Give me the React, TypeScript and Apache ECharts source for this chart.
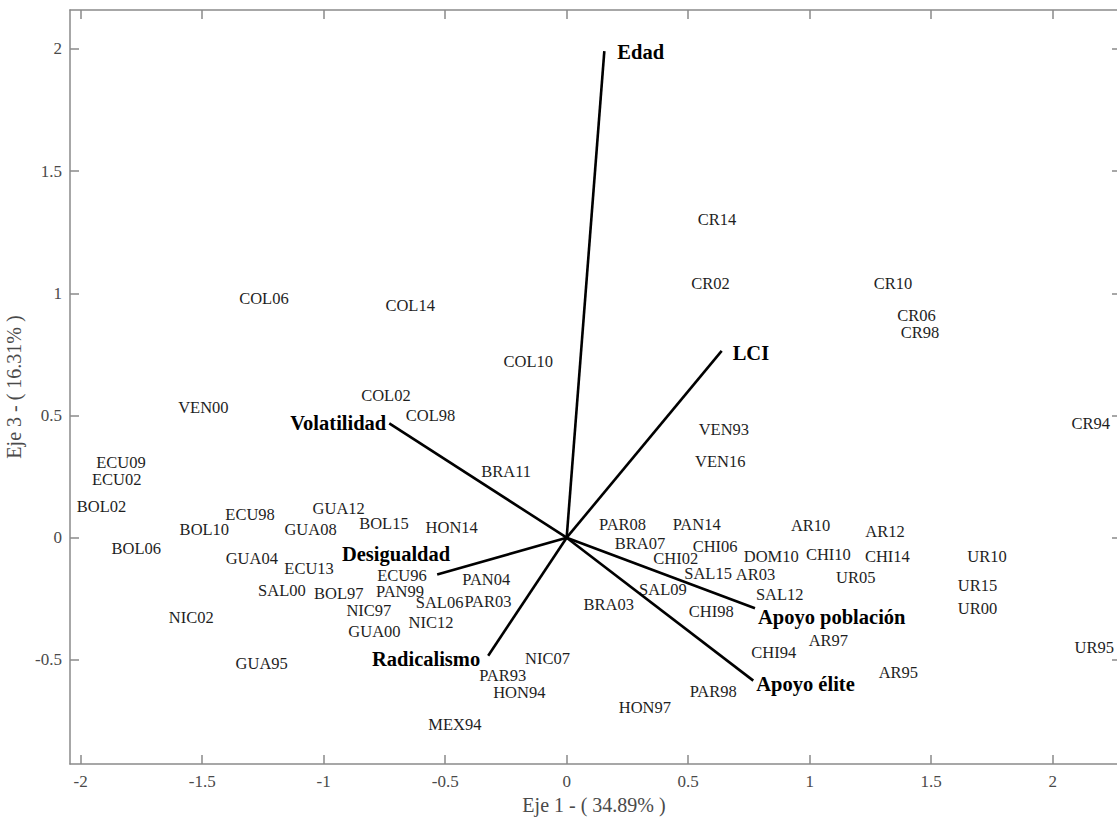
import React, { useEffect, useRef } from "react";
import * as echarts from "echarts";

// Observations (country + year) on the first and third principal axes
const obsNames = [
  "COL06", "COL14", "COL10", "COL02", "COL98", "VEN00", "ECU09", "ECU02", "BOL02", "ECU98",
  "GUA12", "BOL10", "GUA08", "BOL15", "HON14", "BRA11", "BOL06", "GUA04", "ECU13", "ECU96",
  "SAL00", "BOL97", "PAN99", "NIC97", "SAL06", "PAR03", "PAN04", "GUA00", "NIC12", "NIC02",
  "GUA95", "NIC07", "PAR93", "HON94", "MEX94", "HON97", "BRA03", "SAL09", "CHI98", "PAR98",
  "CHI94", "PAR08", "BRA07", "CHI02", "CHI06", "PAN14", "SAL15", "DOM10", "AR03", "SAL12",
  "AR10", "CHI10", "AR12", "CHI14", "UR05", "UR10", "UR15", "UR00", "AR97", "AR95",
  "UR95", "CR14", "CR02", "CR10", "CR06", "CR98", "CR94", "VEN93", "VEN16",
];
const obsEje1 = [
  -1.246, -0.644, -0.158, -0.744, -0.56, -1.495, -1.834, -1.852, -1.914, -1.303,
  -0.938, -1.491, -1.054, -0.752, -0.473, -0.249, -1.771, -1.296, -1.06, -0.678,
  -1.172, -0.938, -0.686, -0.814, -0.523, -0.324, -0.331, -0.791, -0.558, -1.545,
  -1.255, -0.079, -0.263, -0.195, -0.46, 0.322, 0.173, 0.396, 0.595, 0.603,
  0.852, 0.23, 0.302, 0.449, 0.611, 0.535, 0.582, 0.842, 0.777, 0.877,
  1.004, 1.077, 1.31, 1.32, 1.19, 1.73, 1.691, 1.691, 1.077, 1.365,
  2.171, 0.619, 0.592, 1.343, 1.44, 1.454, 2.157, 0.647, 0.632,
];
const obsEje3 = [
  0.98, 0.952, 0.72, 0.58, 0.498, 0.532, 0.307, 0.236, 0.127, 0.096,
  0.119, 0.034, 0.034, 0.056, 0.043, 0.27, -0.043, -0.084, -0.125, -0.153,
  -0.217, -0.228, -0.221, -0.299, -0.266, -0.262, -0.173, -0.382, -0.346, -0.326,
  -0.514, -0.493, -0.562, -0.633, -0.764, -0.696, -0.275, -0.21, -0.303, -0.63,
  -0.471, 0.052, -0.023, -0.084, -0.037, 0.052, -0.146, -0.075, -0.15, -0.232,
  0.048, -0.067, 0.025, -0.075, -0.162, -0.075, -0.194, -0.289, -0.419, -0.552,
  -0.448, 1.3, 1.038, 1.041, 0.911, 0.84, 0.468, 0.444, 0.311,
];

// Variable loadings (biplot vectors)
const varNames = ["Edad", "LCI", "Volatilidad", "Desigualdad", "Radicalismo", "Apoyo población", "Apoyo élite"];
const varEje1 = [0.155, 0.638, -0.73, -0.533, -0.323, 0.775, 0.768];
const varEje3 = [1.991, 0.764, 0.468, -0.151, -0.483, -0.289, -0.585];

// Axis ticks
const xTicks = [-2, -1.5, -1, -0.5, 0, 0.5, 1, 1.5, 2];
const yTicks = [-0.5, 0, 0.5, 1, 1.5, 2];

const X_MIN = -2.044;
const X_MAX = 2.269;
const Y_MIN = -0.926;
const Y_MAX = 2.159;

const SERIF = "'Liberation Serif', 'Times New Roman', Times, serif";
const FRAME = "#8a8a8a";
const TICK_TEXT = "#4a4a4a";

// Where each vector's name sits relative to its tip
const varLabelPlacement: Record<string, { align: string; dx: number; dy: number }> = {
  "Edad": { align: "left", dx: 13, dy: 1 },
  "LCI": { align: "left", dx: 11, dy: 2 },
  "Volatilidad": { align: "right", dx: -3, dy: 0 },
  "Desigualdad": { align: "right", dx: 13, dy: -21 },
  "Radicalismo": { align: "right", dx: -8, dy: 3 },
  "Apoyo población": { align: "left", dx: 3, dy: 9 },
  "Apoyo élite": { align: "left", dx: 3, dy: 3 },
};

function frameAxis(extra: any) {
  return {
    type: "value",
    splitLine: { show: false },
    axisLine: { show: true, onZero: false, lineStyle: { color: FRAME, width: 1.5 } },
    ...extra,
  };
}

export default function App() {
  const ref = useRef<HTMLDivElement>(null);

  useEffect(() => {
    if (!ref.current) return;
    const chart = echarts.init(ref.current, undefined, { renderer: "svg" });

    const obsData = obsNames.map((_, i) => [obsEje1[i], obsEje3[i]]);
    const varData = varNames.map((_, i) => [varEje1[i], varEje3[i]]);

    chart.setOption({
      animation: false,
      backgroundColor: "#ffffff",
      grid: {
        left: 70,
        top: 10,
        right: -1,
        bottom: 53,
        containLabel: false,
        outerBoundsMode: "none",
      },
      xAxis: [
        frameAxis({
          position: "bottom",
          min: X_MIN,
          max: X_MAX,
          axisTick: { show: true, inside: true, length: 9, customValues: xTicks, lineStyle: { color: FRAME, width: 1.5 } },
          axisLabel: {
            show: true,
            customValues: xTicks,
            color: TICK_TEXT,
            fontSize: 17,
            fontFamily: SERIF,
            margin: 9,
            formatter: (v: number) => String(v),
          },
          name: "Eje 1 - ( 34.89% )",
          nameLocation: "middle",
          nameGap: 31,
          nameTextStyle: { color: TICK_TEXT, fontSize: 20, fontFamily: SERIF },
        }),
        frameAxis({
          position: "top",
          min: X_MIN,
          max: X_MAX,
          axisTick: { show: true, inside: true, length: 9, customValues: xTicks, lineStyle: { color: FRAME, width: 1.5 } },
          axisLabel: { show: false },
        }),
      ],
      yAxis: [
        frameAxis({
          position: "left",
          min: Y_MIN,
          max: Y_MAX,
          axisTick: { show: true, inside: true, length: 9, customValues: yTicks, lineStyle: { color: FRAME, width: 1.5 } },
          axisLabel: {
            show: true,
            customValues: yTicks,
            color: TICK_TEXT,
            fontSize: 17,
            fontFamily: SERIF,
            margin: 8,
            formatter: (v: number) => String(v),
          },
          name: "Eje 3 - ( 16.31% )",
          nameLocation: "middle",
          nameGap: 32,
          nameTextStyle: { color: TICK_TEXT, fontSize: 20, fontFamily: SERIF },
        }),
        frameAxis({
          position: "right",
          min: Y_MIN,
          max: Y_MAX,
          axisTick: { show: true, inside: true, length: 6, customValues: yTicks, lineStyle: { color: FRAME, width: 1.5 } },
          axisLabel: { show: false },
        }),
      ],
      series: [
        {
          // observation labels centred on their scores
          type: "custom",
          xAxisIndex: 0,
          yAxisIndex: 0,
          clip: false,
          data: obsData,
          encode: { x: 0, y: 1 },
          renderItem: (params: any, api: any) => {
            const p = api.coord([api.value(0), api.value(1)]);
            return {
              type: "text",
              x: p[0],
              y: p[1],
              style: {
                text: obsNames[params.dataIndex],
                align: "center",
                verticalAlign: "middle",
                fontSize: 16.5,
                fontFamily: SERIF,
                fill: "#1e1e1e",
              },
            };
          },
        },
        {
          // variable vectors from the origin with their names
          type: "custom",
          xAxisIndex: 0,
          yAxisIndex: 0,
          clip: false,
          data: varData,
          encode: { x: 0, y: 1 },
          renderItem: (params: any, api: any) => {
            const o = api.coord([0, 0]);
            const p = api.coord([api.value(0), api.value(1)]);
            const name = varNames[params.dataIndex];
            const place = varLabelPlacement[name];
            return {
              type: "group",
              children: [
                {
                  type: "line",
                  shape: { x1: o[0], y1: o[1], x2: p[0], y2: p[1] },
                  style: { stroke: "#000000", lineWidth: 2.6 },
                },
                {
                  type: "text",
                  x: p[0] + place.dx,
                  y: p[1] + place.dy,
                  style: {
                    text: name,
                    align: place.align,
                    verticalAlign: "middle",
                    fontSize: 20.5,
                    fontWeight: "bold",
                    fontFamily: SERIF,
                    fill: "#000000",
                  },
                },
              ],
            };
          },
        },
      ],
    });

    return () => chart.dispose();
  }, []);

  return (
    <div
      ref={ref}
      style={{ position: "fixed", left: 0, top: 0, width: 1117, height: 817, background: "#fff" }}
    />
  );
}
